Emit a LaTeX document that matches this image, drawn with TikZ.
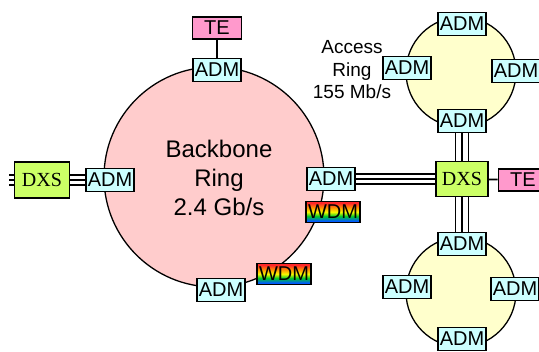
\documentclass[tikz,border=0pt]{standalone}
\usepackage{fontspec}
\setmainfont{Liberation Sans}
\newfontfamily\dxsfont{Liberation Serif}
\usepackage{tikz}
\definecolor{ringpink}{RGB}{255,204,204}
\definecolor{ringyellow}{RGB}{255,255,204}
\definecolor{admcyan}{RGB}{204,255,255}
\definecolor{tepink}{RGB}{255,153,204}
\definecolor{dxsgreen}{RGB}{204,255,102}
\definecolor{wdmred}{RGB}{255,40,40}
\definecolor{wdmorange}{RGB}{255,150,0}
\definecolor{wdmyellow}{RGB}{250,250,0}
\definecolor{wdmgreen}{RGB}{0,200,40}
\definecolor{wdmblue}{RGB}{0,90,255}
\pgfdeclareverticalshading{rainbow}{100bp}{color(0bp)=(wdmblue); color(29bp)=(wdmblue); color(40bp)=(wdmgreen); color(50bp)=(wdmyellow); color(60bp)=(wdmorange); color(71bp)=(wdmred); color(100bp)=(wdmred)}
\tikzset{
  box/.style={draw, line width=1.8pt, inner sep=1pt, font=\fontsize{20}{20}\selectfont},
  adm/.style={box, fill=admcyan, minimum width=48pt, minimum height=23pt},
  te/.style={box, fill=tepink, minimum width=49pt, minimum height=22pt},
  dxs/.style={box, fill=dxsgreen, font=\fontsize{20}{20}\selectfont\dxsfont},
  wdm/.style={box, shading=rainbow, minimum width=54pt, minimum height=21pt},
  ring/.style={draw, circle, line width=1.3pt, inner sep=0pt},
  trunk/.style={line width=1.3pt},
  link/.style={line width=1.8pt}
}

\begin{document}
\begin{tikzpicture}[x=1pt, y=-1pt]
  \useasboundingbox (0,0) rectangle (539,352);
  % rings
  \node[ring, fill=ringpink, minimum size=220pt] (backbone) at (214,177) {};
  \node[ring, fill=ringyellow, minimum size=110pt] (accessU) at (461,72) {};
  \node[ring, fill=ringyellow, minimum size=110pt] (accessL) at (461,292) {};
  \node[font=\fontsize{24}{29}\selectfont, align=center] (bbtext) at (219,178) {Backbone\\Ring\\2.4 Gb/s};
  \node[font=\fontsize{19}{22.5}\selectfont, align=center] (actext) at (352,70) {Access\\Ring\\155 Mb/s};
  % backbone ring
  \node[adm] (admT) at (217,70) {ADM};
  \node[adm] (admL) at (110,180) {ADM};
  \node[adm] (admR) at (331,179) {ADM};
  \node[adm] (admB) at (221,290) {ADM};
  \node[te] (teT) at (217,28) {TE};
  \node[wdm] (wdmR) at (333,212) {WDM};
  \node[wdm] (wdmB) at (284,274) {WDM};
  \node[dxs, minimum width=55pt, minimum height=36pt] (dxsL) at (42,180) {DXS};
  \coordinate (edgeL) at (9,180);
  % access rings
  \node[dxs, minimum width=52pt, minimum height=35pt] (dxsR) at (462,179) {DXS};
  \node[te] (teR) at (523,180) {TE};
  \node[adm] (accUt) at (462,24) {ADM};
  \node[adm] (accUl) at (407,68) {ADM};
  \node[adm] (accUr) at (516,71) {ADM};
  \node[adm] (accUb) at (462,121) {ADM};
  \node[adm] (accLt) at (462,244) {ADM};
  \node[adm] (accLl) at (407,287) {ADM};
  \node[adm] (accLr) at (515,289) {ADM};
  \node[adm] (accLb) at (462,339) {ADM};
  % links
  \draw[link] (teT) -- (admT);
  \draw[link] (dxsR) -- (teR);
  \foreach \d in {-1,0,1} {
    \draw[trunk] ([yshift=\d*5pt]edgeL) -- ([yshift=\d*5pt]dxsL.west);
    \draw[trunk] ([yshift=\d*5pt]dxsL.east) -- ([yshift=\d*5pt]admL.west);
    \draw[trunk] ([yshift=\d*5pt]admR.east) -- ([yshift=\d*5pt]dxsR.west);
    \draw[trunk] ([xshift=\d*6.5pt]accUb.south) -- ([xshift=\d*6.5pt]dxsR.north);
    \draw[trunk] ([xshift=\d*6.5pt]dxsR.south) -- ([xshift=\d*6.5pt]accLt.north);
  }
\end{tikzpicture}
\end{document}
